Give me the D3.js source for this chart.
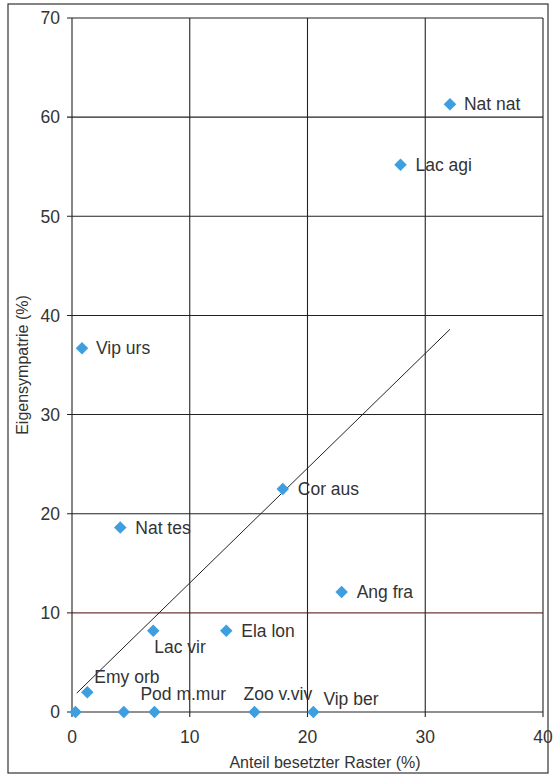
<!DOCTYPE html>
<html><head><meta charset="utf-8">
<script src="https://cdn.jsdelivr.net/npm/d3@7"></script>
<style>body{margin:0;background:#fff;}svg{display:block;font-family:"Liberation Sans",Arial,sans-serif;}</style>
</head><body>
<script>
const species = ["Nat nat","Lac agi","Vip urs","Cor aus","Nat tes","Ang fra","Lac vir","Ela lon","Emy orb","","","Pod m.mur","Zoo v.viv","Vip ber"];
const xValues = [32.1,27.9,0.85,17.9,4.1,22.9,6.9,13.1,1.3,0.3,4.4,7.0,15.5,20.5];
const yValues = [61.3,55.2,36.7,22.5,18.6,12.1,8.2,8.2,2.0,0,0,0,0,0];
const xTicks = [0,10,20,30,40];
const yTicks = [0,10,20,30,40,50,60,70];
const trendX = [0.4,32.1];
const trendY = [1.9,38.6];
// label offsets (dx, dy) relative to each point, in px
const labelDx = [14,15,14,15,15,15,1,15,7,0,0,-14,-11,10];
const labelDy = [6,6,6,6,6,6,22,6,-9,0,0,-12,-12,-7];

const W=554,H=775;
const m={l:72,r:11,t:18,b:63};
const svg=d3.select("body").append("svg").attr("width",W).attr("height",H);
svg.append("rect").attr("x",8).attr("y",4).attr("width",540).attr("height",769)
  .attr("fill","none").attr("stroke","#333").attr("stroke-width",1.2);

const x=d3.scaleLinear().domain([0,40]).range([m.l,W-m.r]);
const y=d3.scaleLinear().domain([0,70]).range([H-m.b,m.t]);

const g=svg.append("g");
g.selectAll(".hg").data(yTicks).join("line")
  .attr("x1",x(0)-5).attr("x2",x(40)).attr("y1",d=>y(d)).attr("y2",d=>y(d))
  .attr("stroke",d=>d===10?"#6a3a3a":"#222").attr("stroke-width",1.1);
g.selectAll(".vg").data(xTicks).join("line")
  .attr("x1",d=>x(d)).attr("x2",d=>x(d)).attr("y1",y(70)).attr("y2",y(0)+5)
  .attr("stroke","#222").attr("stroke-width",1.1);

g.selectAll(".yl").data(yTicks).join("text")
  .attr("x",x(0)-12).attr("y",d=>y(d)).attr("dy","0.36em").attr("text-anchor","end")
  .attr("font-size",17.5).attr("fill","#333").text(d=>d);
g.selectAll(".xl").data(xTicks).join("text")
  .attr("x",d=>x(d)).attr("y",y(0)+31).attr("text-anchor","middle")
  .attr("font-size",17.5).attr("fill","#333").text(d=>d);

svg.append("text").attr("x",325).attr("y",768).attr("text-anchor","middle")
  .attr("font-size",16).attr("fill","#333").text("Anteil besetzter Raster (%)");
svg.append("text").attr("transform",`translate(28,${(m.t+H-m.b)/2}) rotate(-90)`)
  .attr("text-anchor","middle").attr("font-size",16).attr("fill","#333").text("Eigensympatrie (%)");

svg.append("line").attr("x1",x(trendX[0])).attr("y1",y(trendY[0]))
  .attr("x2",x(trendX[1])).attr("y2",y(trendY[1])).attr("stroke","#222").attr("stroke-width",1);

const pts=xValues.map((v,i)=>({x:v,y:yValues[i],name:species[i],dx:labelDx[i],dy:labelDy[i]}));
const sym=d3.symbol().type(d3.symbolDiamond2).size(100);
svg.selectAll(".pt").data(pts).join("path")
  .attr("transform",d=>`translate(${x(d.x)},${y(d.y)})`).attr("d",sym).attr("fill","#3d9fe0");
svg.selectAll(".lb").data(pts.filter(d=>d.name)).join("text")
  .attr("x",d=>x(d.x)+d.dx).attr("y",d=>y(d.y)+d.dy)
  .attr("font-size",17.5).attr("fill","#333").text(d=>d.name);
</script>
</body></html>
